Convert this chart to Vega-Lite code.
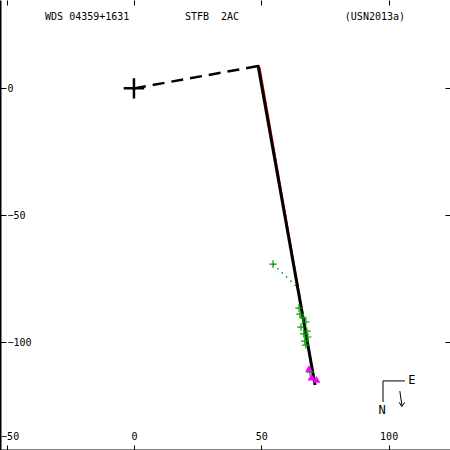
{
  "$schema": "https://vega.github.io/schema/vega-lite/v6.json",
  "width": 450,
  "height": 450,
  "padding": 0,
  "autosize": {"type": "none"},
  "background": "white",
  "config": {"view": {"stroke": null}, "font": "DejaVu Sans Mono"},
  "datasets": {
    "orbit": [{"x": 48.7, "y": 9.2}, {"x": 71.1, "y": -116.8}],
    "prev": [{"x": 49.4, "y": 8.4}, {"x": 71.1, "y": -116.4}],
    "node": [{"x": 0, "y": 0}, {"x": 48.7, "y": 8.8}],
    "oc": [{"x": 54.6, "y": -69.2}, {"x": 63.6, "y": -77.8}],
    "micro": [
      {"x": 54.6, "y": -69.2}, {"x": 64.8, "y": -86.5}, {"x": 65.2, "y": -88.9},
      {"x": 66.4, "y": -90.4}, {"x": 67.5, "y": -92.0}, {"x": 65.6, "y": -94.0},
      {"x": 67.9, "y": -95.6}, {"x": 66.7, "y": -96.7}, {"x": 68.3, "y": -97.9},
      {"x": 67.1, "y": -99.5}, {"x": 67.5, "y": -101.1}, {"x": 69.1, "y": -111.7}
    ],
    "speckle": [{"x": 68.7, "y": -110.3}, {"x": 69.7, "y": -113.7}, {"x": 71.7, "y": -114.6}],
    "primary": [{"x": 0, "y": 0}],
    "compass": [
      {"x": 97.8, "y": -115.2, "x2": 106.4, "y2": -115.2},
      {"x": 97.8, "y": -115.2, "x2": 97.8, "y2": -123.5}
    ],
    "compassText": [{"x": 109.1, "y": -114.8, "t": "E"}, {"x": 97.4, "y": -126.7, "t": "N"}],
    "arrow": [{"x": 104.4, "y": -119.2}, {"x": 105.2, "y": -124.7}],
    "arrowHead": [{"x": 105.2, "y": -124.7}],
    "header": [
      {"x": -34.9, "y": 28.1, "t": "WDS 04359+1631"},
      {"x": 20.0, "y": 28.1, "t": "STFB\u00a0\u00a02AC"},
      {"x": 82.8, "y": 28.1, "t": "(USN2013a)"}
    ]
  },
  "resolve": {"axis": {"x": "independent", "y": "independent"}},
  "layer": [
    {
      "data": {"name": "prev"},
      "mark": {"type": "line", "color": "#ff0000", "strokeWidth": 1.5},
      "encoding": {
        "x": {"field": "x", "type": "quantitative", "scale": {"domain": [-52.6, 124.1], "nice": false, "zero": false},
          "axis": {"orient": "bottom", "values": [-50, 0, 50, 100], "tickSize": -5, "labelPadding": -4, "labelBaseline": "bottom", "labelAlign": "center",
            "labelOffset": {"condition": {"test": "datum.value == -50", "value": 3}, "value": 0},
            "domain": true, "domainWidth": 2, "domainColor": "black", "tickColor": "black", "grid": false, "title": null,
            "labelFont": "DejaVu Sans Mono", "labelFontSize": 10, "labelColor": "black", "labelFlush": false, "labelOverlap": false}},
        "y": {"field": "y", "type": "quantitative", "scale": {"domain": [-142.4, 34.8], "nice": false, "zero": false},
          "axis": {"orient": "left", "values": [0, -50, -100], "tickSize": -6, "labelPadding": -1, "labelAlign": "left", "labelBaseline": "middle",
            "domain": true, "domainWidth": 2, "domainColor": "black", "tickColor": "black", "grid": false, "title": null,
            "labelFont": "DejaVu Sans Mono", "labelFontSize": 10, "labelColor": "black", "labelFlush": false, "labelOverlap": false}}
      }
    },
    {
      "data": {"name": "orbit"},
      "mark": {"type": "line", "color": "black", "strokeWidth": 3},
      "encoding": {
        "x": {"field": "x", "type": "quantitative",
          "axis": {"orient": "top", "values": [-50, 0, 50, 100], "tickSize": -5, "labels": false, "domain": false, "grid": false, "title": null, "tickColor": "black"}},
        "y": {"field": "y", "type": "quantitative",
          "axis": {"orient": "right", "values": [0, -50, -100], "tickSize": -5, "labels": false, "domain": false, "grid": false, "title": null, "tickColor": "black"}}
      }
    },
    {
      "data": {"name": "node"},
      "mark": {"type": "line", "color": "black", "strokeWidth": 2.5, "strokeDash": [12, 7]},
      "encoding": {
        "x": {"field": "x", "type": "quantitative", "axis": null},
        "y": {"field": "y", "type": "quantitative", "axis": null}
      }
    },
    {
      "data": {"name": "oc"},
      "mark": {"type": "line", "color": "#00a000", "strokeWidth": 1.5, "strokeDash": [1.5, 4.5]},
      "encoding": {
        "x": {"field": "x", "type": "quantitative", "axis": null},
        "y": {"field": "y", "type": "quantitative", "axis": null}
      }
    },
    {
      "data": {"name": "micro"},
      "mark": {"type": "point", "shape": "M-1,0H1M0,-1V1", "filled": false, "stroke": "#00a000", "strokeWidth": 1.2, "size": 56, "opacity": 1},
      "encoding": {
        "x": {"field": "x", "type": "quantitative", "axis": null},
        "y": {"field": "y", "type": "quantitative", "axis": null}
      }
    },
    {
      "data": {"name": "speckle"},
      "mark": {"type": "point", "shape": "triangle-up", "filled": true, "color": "#ff00ff", "size": 60, "opacity": 1},
      "encoding": {
        "x": {"field": "x", "type": "quantitative", "axis": null},
        "y": {"field": "y", "type": "quantitative", "axis": null}
      }
    },
    {
      "data": {"name": "primary"},
      "mark": {"type": "point", "shape": "M-1,0H1M0,-1V1", "filled": false, "stroke": "black", "strokeWidth": 2.5, "size": 420, "opacity": 1},
      "encoding": {
        "x": {"field": "x", "type": "quantitative", "axis": null},
        "y": {"field": "y", "type": "quantitative", "axis": null}
      }
    },
    {
      "data": {"name": "compass"},
      "mark": {"type": "rule", "color": "black", "strokeWidth": 1},
      "encoding": {
        "x": {"field": "x", "type": "quantitative", "axis": null},
        "y": {"field": "y", "type": "quantitative", "axis": null},
        "x2": {"field": "x2"},
        "y2": {"field": "y2"}
      }
    },
    {
      "data": {"name": "arrow"},
      "mark": {"type": "line", "color": "black", "strokeWidth": 1},
      "encoding": {
        "x": {"field": "x", "type": "quantitative", "axis": null},
        "y": {"field": "y", "type": "quantitative", "axis": null}
      }
    },
    {
      "data": {"name": "arrowHead"},
      "mark": {"type": "point", "shape": "M-1,-1L0,0.6L1,-1", "filled": false, "stroke": "black", "strokeWidth": 1, "size": 30, "opacity": 1},
      "encoding": {
        "x": {"field": "x", "type": "quantitative", "axis": null},
        "y": {"field": "y", "type": "quantitative", "axis": null}
      }
    },
    {
      "data": {"name": "compassText"},
      "mark": {"type": "text", "font": "DejaVu Sans Mono", "fontSize": 12, "color": "black", "align": "center", "baseline": "middle"},
      "encoding": {
        "x": {"field": "x", "type": "quantitative", "axis": null},
        "y": {"field": "y", "type": "quantitative", "axis": null},
        "text": {"field": "t"}
      }
    },
    {
      "data": {"name": "header"},
      "mark": {"type": "text", "font": "DejaVu Sans Mono", "fontSize": 10, "color": "black", "align": "left", "baseline": "middle"},
      "encoding": {
        "x": {"field": "x", "type": "quantitative", "axis": null},
        "y": {"field": "y", "type": "quantitative", "axis": null},
        "text": {"field": "t"}
      }
    }
  ]
}
